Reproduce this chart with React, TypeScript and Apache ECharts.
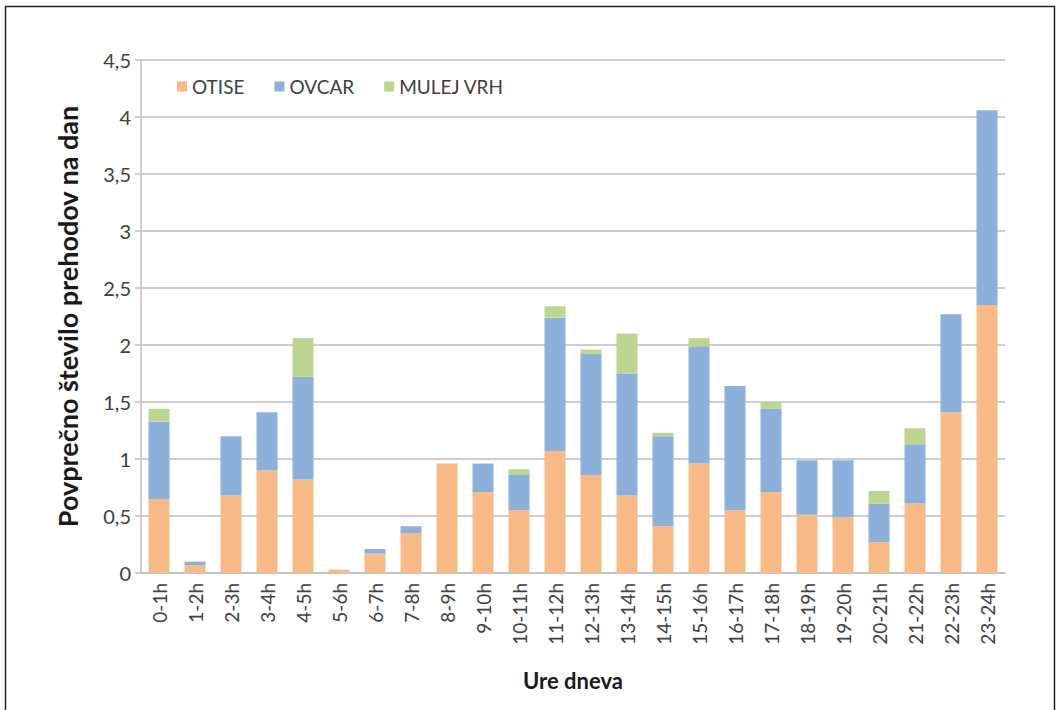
import React, { useEffect, useRef } from "react";
import * as echarts from "echarts";

// Hourly intervals of the day
const hours = [
  "0-1h", "1-2h", "2-3h", "3-4h", "4-5h", "5-6h", "6-7h", "7-8h",
  "8-9h", "9-10h", "10-11h", "11-12h", "12-13h", "13-14h", "14-15h", "15-16h",
  "16-17h", "17-18h", "18-19h", "19-20h", "20-21h", "21-22h", "22-23h", "23-24h",
];

// Average number of passages per day, by site
const otise = [
  0.65, 0.07, 0.68, 0.9, 0.82, 0.03, 0.17, 0.35,
  0.96, 0.71, 0.55, 1.07, 0.86, 0.68, 0.41, 0.96,
  0.55, 0.71, 0.51, 0.49, 0.27, 0.61, 1.41, 2.35,
];
const ovcar = [
  0.68, 0.03, 0.52, 0.51, 0.9, 0, 0.04, 0.06,
  0, 0.25, 0.31, 1.17, 1.06, 1.07, 0.79, 1.03,
  1.09, 0.73, 0.48, 0.5, 0.34, 0.52, 0.86, 1.71,
];
const mulejVrh = [
  0.11, 0, 0, 0, 0.34, 0, 0, 0,
  0, 0, 0.05, 0.1, 0.04, 0.35, 0.03, 0.07,
  0, 0.06, 0, 0, 0.11, 0.14, 0, 0,
];

const seriesNames = ["OTISE", "OVCAR", "MULEJ VRH"];
const seriesColors = ["#F8BB88", "#8DB0DB", "#BCD590"];

const FONT = "Lato, 'Open Sans', sans-serif";

export default function App() {
  const ref = useRef<HTMLDivElement>(null);

  useEffect(() => {
    if (!ref.current) return;
    const chart = echarts.init(ref.current, undefined, { renderer: "svg" });
    const values = [otise, ovcar, mulejVrh];

    chart.setOption({
      animation: false,
      backgroundColor: "#ffffff",
      textStyle: { fontFamily: FONT },
      graphic: [
        {
          type: "rect",
          shape: { x: 5.5, y: 6.5, width: 1049, height: 800 },
          style: { fill: "none", stroke: "#222222", lineWidth: 1.5 },
          silent: true,
          z: -10,
        },
      ],
      legend: {
        top: 72,
        left: 172,
        itemWidth: 10,
        itemHeight: 10,
        itemGap: 30,
        icon: "rect",
        textStyle: { fontSize: 19, color: "#404040", fontFamily: FONT },
        data: seriesNames,
      },
      grid: { left: 141, right: 55, top: 60, bottom: 137 },
      xAxis: {
        type: "category",
        data: hours,
        name: "Ure dneva",
        nameLocation: "middle",
        nameGap: 96,
        nameTextStyle: { fontSize: 22, fontWeight: "bold", color: "#1a1a1a", fontFamily: FONT },
        axisLine: { lineStyle: { color: "#bfbfbf", width: 1.5 } },
        axisTick: { show: false },
        axisLabel: {
          rotate: 90,
          interval: 0,
          margin: 10,
          fontSize: 19,
          color: "#404040",
          fontFamily: FONT,
        },
      },
      yAxis: {
        type: "value",
        min: 0,
        max: 4.5,
        interval: 0.5,
        name: "Povprečno število prehodov na dan",
        nameLocation: "middle",
        nameGap: 60,
        nameTextStyle: { fontSize: 27, fontWeight: "bold", color: "#1a1a1a", fontFamily: FONT },
        axisLine: { show: true, lineStyle: { color: "#bfbfbf", width: 1.5 } },
        axisTick: { show: true, length: 6, lineStyle: { color: "#bfbfbf", width: 1.5 } },
        splitLine: { lineStyle: { color: "#bdbdbd", width: 1.5 } },
        axisLabel: {
          fontSize: 20,
          margin: 10,
          color: "#404040",
          fontFamily: FONT,
          formatter: (v: number) => String(v).replace(".", ","),
        },
      },
      series: seriesNames.map((name, i) => ({
        name,
        type: "bar",
        stack: "total",
        barWidth: 21,
        itemStyle: { color: seriesColors[i] },
        data: values[i],
      })),
    });

    return () => chart.dispose();
  }, []);

  return (
    <div
      ref={ref}
      style={{ position: "fixed", left: 0, top: 0, width: 1060, height: 710 }}
    />
  );
}
